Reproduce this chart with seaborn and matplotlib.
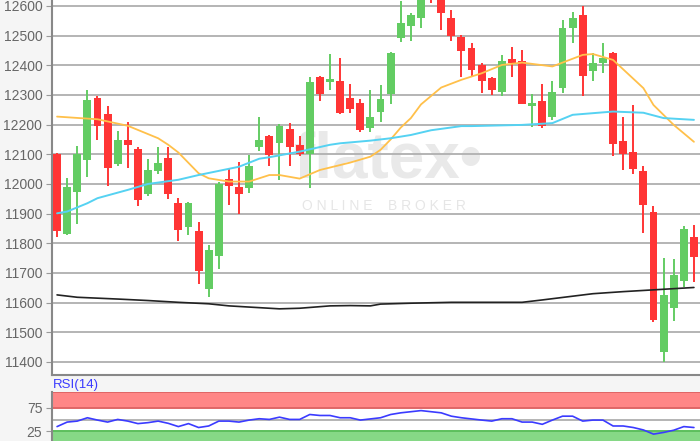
import numpy as np
import pandas as pd
import seaborn as sns
import matplotlib
matplotlib.use("Agg")
import matplotlib.pyplot as plt

# daily candles
opens = [12100, 11830, 11972, 12082, 12290, 12236, 12068, 12148, 12118, 11966, 12042, 12089,
         11935, 11856, 11840, 11645, 11757, 12016, 11991, 11986, 12126, 12163, 12137, 12184,
         12132, 12101, 12362, 12344, 12347, 12289, 12272, 12189, 12241, 12303, 12491, 12533,
         12558, 12700, 12640, 12558, 12494, 12457, 12401, 12356, 12311, 12420, 12413, 12263,
         12281, 12225, 12323, 12525, 12570, 12382, 12409, 12443, 12146, 12106, 12045, 11904,
         11432, 11581, 11674, 11820]
closes = [11840, 11990, 12100, 12282, 12196, 12055, 12148, 12132, 11946, 12047, 12070, 11966,
          11845, 11935, 11705, 11778, 12000, 11993, 11966, 12062, 12148, 12098, 12196, 12126,
          12101, 12345, 12303, 12354, 12238, 12252, 12182, 12227, 12286, 12443, 12542, 12570,
          12635, 12650, 12575, 12499, 12449, 12384, 12348, 12315, 12415, 12409, 12270, 12274,
          12194, 12311, 12525, 12558, 12364, 12407, 12424, 12135, 12101, 12050, 11929, 11542,
          11626, 11693, 11848, 11753]
highs = [12105, 12020, 12128, 12317, 12295, 12263, 12180, 12210, 12124, 12083, 12124, 12126,
         11953, 11940, 11873, 11795, 12005, 12053, 12075, 12098, 12225, 12166, 12202, 12207,
         12162, 12360, 12365, 12438, 12424, 12337, 12286, 12317, 12334, 12446, 12615, 12575,
         12660, 12720, 12660, 12587, 12502, 12474, 12407, 12362, 12435, 12463, 12452, 12302,
         12337, 12347, 12551, 12578, 12600, 12441, 12474, 12446, 12225, 12266, 12059, 11926,
         11752, 11747, 11857, 11862]
lows = [11822, 11828, 11865, 12025, 12148, 11993, 12060, 12055, 11924, 11960, 12034, 11950,
        11808, 11828, 11662, 11620, 11713, 11930, 11898, 11971, 12112, 12062, 12014, 12059,
        12094, 11986, 12281, 12317, 12235, 12238, 12176, 12174, 12210, 12270, 12480, 12483,
        12525, 12611, 12519, 12483, 12362, 12364, 12306, 12300, 12297, 12362, 12268, 12191,
        12190, 12214, 12308, 12474, 12297, 12348, 12373, 12094, 12047, 12034, 11836, 11533,
        11401, 11539, 11654, 11671]

# moving averages (read at candle positions)
orange_idx = [0, 4, 7, 10, 11, 12, 14, 15, 17, 19, 21, 22, 24, 26, 29, 31, 32, 33, 34, 35,
              36, 38, 40, 42, 44, 46, 49, 52, 53, 55, 58, 59, 61, 63]
orange_val = [12227, 12218, 12196, 12154, 12132, 12106, 12036, 12019, 12008, 12008, 12030, 12030,
              12018, 12047, 12072, 12092, 12115, 12150, 12190, 12222, 12268, 12325, 12351, 12373,
              12401, 12409, 12396, 12435, 12438, 12418, 12323, 12266, 12199, 12142]
blue_idx = [0, 1, 3, 4, 7, 9, 12, 14, 18, 20, 21, 24, 27, 28, 31, 33, 35, 37, 40, 41, 46, 49,
            51, 55, 58, 60, 63]
blue_val = [11901, 11907, 11935, 11952, 11980, 12000, 12014, 12030, 12058, 12085, 12090, 12109,
            12132, 12137, 12146, 12154, 12165, 12181, 12195, 12195, 12199, 12205, 12233, 12244,
            12240, 12222, 12216]
black_idx = [0, 2, 4, 6, 9, 12, 15, 17, 19, 22, 24, 27, 29, 31, 32, 35, 39, 46, 48, 53, 56,
             60, 63]
black_val = [11626, 11618, 11615, 11612, 11607, 11601, 11596, 11589, 11585, 11579, 11581, 11589,
             11590, 11589, 11595, 11598, 11601, 11601, 11609, 11630, 11637, 11645, 11651]

# RSI(14)
rsi_idx = [0, 1, 2, 3, 4, 5, 6, 7, 8, 9, 10, 11, 12, 13, 14, 15, 16, 17, 18, 19, 20, 21, 22,
           23, 24, 25, 26, 27, 28, 29, 30, 32, 33, 34, 36, 38, 39, 40, 42, 43, 44, 45, 46, 47,
           48, 49, 50, 51, 52, 53, 54, 55, 56, 57, 58, 59, 60, 61, 62, 63]
rsi_val = [35, 44.7, 46.8, 54, 49, 44.7, 50.4, 46.8, 41.4, 43.5, 46.8, 42, 35, 41.4, 33, 36.3,
           46.8, 46.8, 44.7, 49, 51.9, 50.4, 55.3, 50.4, 50.4, 61, 58.9, 58.9, 54, 54, 49, 54,
           61, 64.6, 69.4, 64.6, 57.4, 54, 49, 46.8, 51.9, 51.9, 44.7, 44.7, 39.9, 49, 57.4,
           57.4, 46.8, 49, 49, 36.3, 36.3, 33, 27.8, 18.8, 22.4, 27.2, 35, 33]

price_ticks = list(range(11400, 12700, 100))

sns.set_style("white")
plt.rcParams['font.family'] = ['Liberation Sans', 'DejaVu Sans']

green = "#63cc63"
red = "#ff3535"

fig = plt.figure(figsize=(7, 4.41), dpi=100, facecolor="#f5f5f5")
ax = fig.add_axes([52 / 700, 66 / 441, 648 / 700, 375 / 441])
rsi_ax = fig.add_axes([52 / 700, 0, 648 / 700, 49 / 441])

df = pd.DataFrame({"o": opens, "h": highs, "l": lows, "c": closes})
df["i"] = np.arange(len(df))
cols = np.where(df.c >= df.o, green, red)

# watermark
ax.text(388 / 700, 1 - 160 / 441, "flatex\u2022", transform=fig.transFigure, ha="center",
        va="center", fontsize=46, fontweight="bold", color="#e9e9e9", zorder=0.3)
ax.text(384 / 700, 1 - 206 / 441, "O N L I N E    B R O K E R", transform=fig.transFigure,
        ha="center", va="center", fontsize=10, color="#e6e6e6", zorder=0.3)

ax.vlines(df.i, df.l, df.h, colors=cols, lw=1.4, zorder=3)
ax.bar(df.i, (df.c - df.o).abs(), bottom=np.minimum(df.o, df.c), width=0.78,
       color=cols, linewidth=0, zorder=4)

sns.lineplot(x=orange_idx, y=orange_val, ax=ax, color="#ffc04a", lw=1.3, zorder=5)
sns.lineplot(x=blue_idx, y=blue_val, ax=ax, color="#55d2f2", lw=1.4, zorder=5)
sns.lineplot(x=black_idx, y=black_val, ax=ax, color="#222222", lw=1.2, zorder=5)

ax.set_xlim(-0.5, 63.6)
ax.set_ylim(11356, 12620)
ax.set_yticks(price_ticks)
ax.set_xticks([])
ax.yaxis.grid(True, color="#b4b4b4", lw=1.4)
ax.set_axisbelow(True)
ax.tick_params(axis="y", length=4, color="#999999", labelsize=10, labelcolor="#666666", pad=3, left=True)
for s in ["top", "right"]:
    ax.spines[s].set_visible(False)
for s in ["left", "bottom"]:
    ax.spines[s].set_color("#888888")
    ax.spines[s].set_linewidth(1.5)

# RSI panel
rsi_ax.axhspan(75, 120, color="#ff8686", lw=0, zorder=0)
rsi_ax.axhspan(0, 25, color="#86d886", lw=0, zorder=0)
rsi_ax.axhline(75, color="#e06666", lw=1.4, zorder=1)
rsi_ax.axhline(25, color="#5cbf5c", lw=1.4, zorder=1)
rsi_ax.axhline(50, color="#b4b4b4", lw=1.4, zorder=1)
rsi_ax.axhline(108.5, color="#e06666", lw=1.4, zorder=1)
sns.lineplot(x=rsi_idx, y=rsi_val, ax=rsi_ax, color="#3b3bff", lw=1.2, zorder=3)
rsi_ax.set_xlim(-0.5, 63.6)
rsi_ax.set_ylim(4, 109.4)
rsi_ax.set_yticks([25, 75])
rsi_ax.set_xticks([])
rsi_ax.tick_params(axis="y", length=4, color="#999999", labelsize=10, labelcolor="#666666", pad=3, left=True)
for s in ["top", "right", "bottom"]:
    rsi_ax.spines[s].set_visible(False)
rsi_ax.spines["left"].set_color("#888888")
rsi_ax.spines["left"].set_linewidth(1.5)

fig.text(53 / 700, 1 - 385 / 441, "RSI(14)", color="#3b3bff", fontsize=9.5, va="center", ha="left")

fig.savefig("out.png", dpi=100, facecolor=fig.get_facecolor())
